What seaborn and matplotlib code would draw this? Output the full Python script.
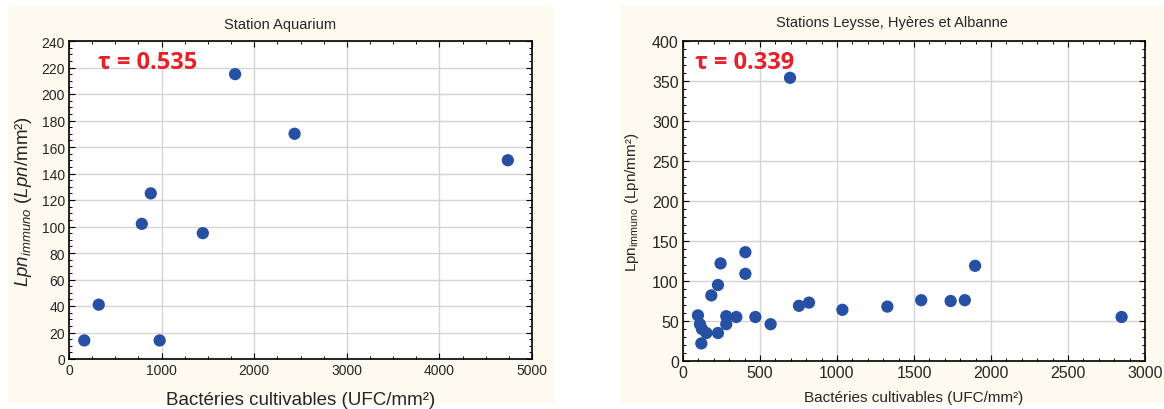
import numpy as np
import pandas as pd
import matplotlib
matplotlib.use("Agg")
import matplotlib.pyplot as plt
from matplotlib.patches import Rectangle
from matplotlib.ticker import MultipleLocator, AutoMinorLocator
import seaborn as sns

# Station Aquarium
aq_bact = [165, 321, 786, 883, 979, 1445, 1794, 2436, 4739]
aq_lpn = [14, 41, 102, 125, 14, 95, 215, 170, 150]

# Stations Leysse, Hyères et Albanne
lha_bact = [97, 110, 123, 152, 119, 227, 184, 227, 244, 281, 281, 346,
            405, 405, 470, 569, 695, 753, 818, 1035, 1327, 1547, 1738,
            1830, 1897, 2848]
lha_lpn = [57, 46, 40, 35, 22, 35, 82, 95, 122, 56, 46, 55,
           136, 109, 55, 46, 354, 69, 73, 64, 68, 76, 75,
           76, 119, 55]

tau_labels = ["τ = 0.535", "τ = 0.339"]

sns.set_style("ticks")
plt.rcParams['font.family'] = ['Liberation Sans', 'DejaVu Sans']
plt.rcParams['mathtext.fontset'] = 'custom'
plt.rcParams['mathtext.rm'] = 'Liberation Sans'
plt.rcParams['mathtext.it'] = 'Liberation Sans:italic'

fig = plt.figure(figsize=(11.64, 4.10), dpi=100, facecolor='white')
W, H = 1164, 410
panel_color = '#fdfaf0'
fig.patches.append(Rectangle((7 / W, 1 - 403 / H), 546 / W, 396 / H,
                             transform=fig.transFigure, color=panel_color, zorder=-10))
fig.patches.append(Rectangle((621 / W, 1 - 403 / H), 543 / W, 396 / H,
                             transform=fig.transFigure, color=panel_color, zorder=-10))

ax1 = fig.add_axes([69 / W, 1 - 360 / H, 463 / W, 318 / H])
ax2 = fig.add_axes([683 / W, 1 - 362 / H, 462 / W, 320 / H])

dot = '#2650a4'
df1 = pd.DataFrame({'bact': aq_bact, 'lpn': aq_lpn})
df2 = pd.DataFrame({'bact': lha_bact, 'lpn': lha_lpn})
sns.scatterplot(data=df1, x='bact', y='lpn', ax=ax1, color=dot, s=78,
                edgecolor='none', zorder=3)
sns.scatterplot(data=df2, x='bact', y='lpn', ax=ax2, color=dot, s=78,
                edgecolor='none', zorder=3)

# limits and ticks
ax1.set_xlim(0, 5000)
ax1.set_ylim(0, 240)
ax1.xaxis.set_major_locator(MultipleLocator(1000))
ax1.xaxis.set_minor_locator(AutoMinorLocator(4))
ax1.yaxis.set_major_locator(MultipleLocator(20))
ax1.yaxis.set_minor_locator(AutoMinorLocator(4))

ax2.set_xlim(0, 3000)
ax2.set_ylim(0, 400)
ax2.xaxis.set_major_locator(MultipleLocator(500))
ax2.xaxis.set_minor_locator(AutoMinorLocator(5))
ax2.yaxis.set_major_locator(MultipleLocator(50))
ax2.yaxis.set_minor_locator(AutoMinorLocator(5))

for ax, fs in [(ax1, 10), (ax2, 11.5)]:
    ax.set_facecolor('white')
    ax.grid(True, which='major', color='#d4d4d4', linewidth=1.0, zorder=0)
    ax.set_axisbelow(True)
    ax.tick_params(which='both', direction='in', top=True, right=True,
                   color='black', labelsize=fs, pad=3)
    ax.tick_params(which='major', length=4, width=0.8)
    ax.tick_params(which='minor', length=2.5, width=0.7)
    for sp in ax.spines.values():
        sp.set_color('black')
        sp.set_linewidth(1.2)

# titles centered on each panel
fig.text(280 / W, 1 - 25 / H, "Station Aquarium", ha='center', va='center', fontsize=10.5)
fig.text(892 / W, 1 - 23 / H, "Stations Leysse, Hyères et Albanne", ha='center',
         va='center', fontsize=10.5)

ax1.set_xlabel("Bactéries cultivables (UFC/mm²)", fontsize=13.5, labelpad=10)
ax1.set_ylabel(r"$\mathit{Lpn}_{\mathit{immuno}}$ $(\mathit{Lpn}$/mm²)", fontsize=13.5, labelpad=5)
ax2.set_xlabel("Bactéries cultivables (UFC/mm²)", fontsize=11, labelpad=7)
ax2.set_ylabel(r"Lpn$_{\mathrm{immuno}}$ (Lpn/mm²)", fontsize=11, labelpad=8)

for ax, lab, xpos in [(ax1, tau_labels[0], 0.063), (ax2, tau_labels[1], 0.025)]:
    ax.text(xpos, 0.935, lab, transform=ax.transAxes, ha='left', va='center',
            color='#e8202a', fontsize=17, fontweight='bold',
            family=['Open Sans', 'DejaVu Sans'], zorder=5)

fig.savefig("out.png", dpi=100, facecolor='white')
